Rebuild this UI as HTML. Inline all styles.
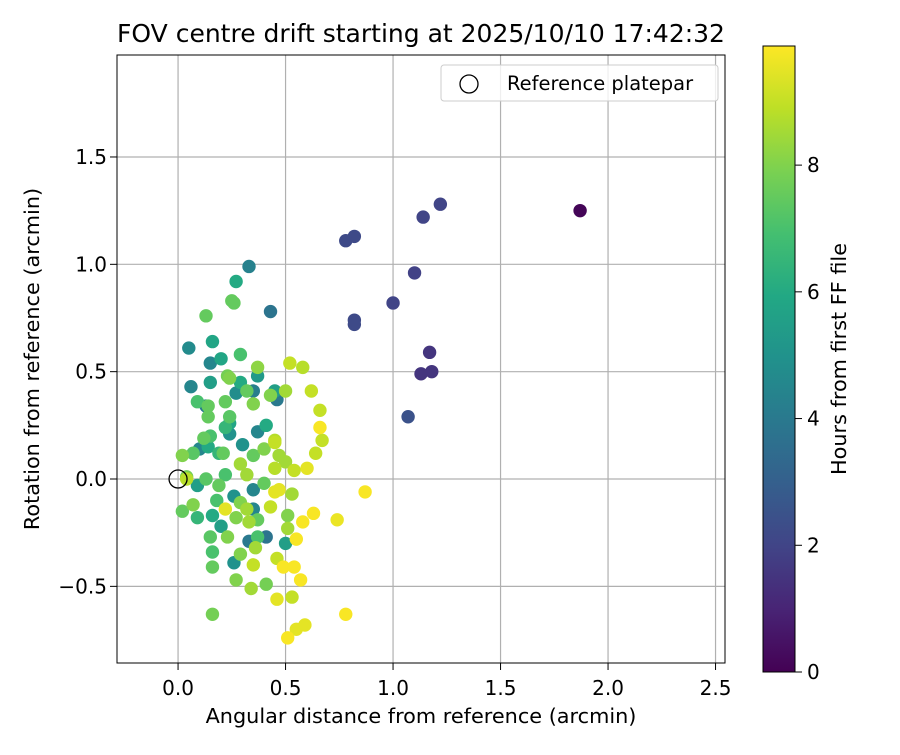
<!DOCTYPE html>
<html><head><meta charset="utf-8"><style>
body{margin:0;background:#fff}
svg{font-family:"DejaVu Sans","Liberation Sans",sans-serif}
</style></head><body>
<svg id="chart" width="900" height="750" viewBox="0 0 900 750">
<defs><linearGradient id="vir" x1="0" y1="1" x2="0" y2="0">
<stop offset="0" stop-color="#440154"/><stop offset="0.1" stop-color="#482475"/><stop offset="0.2" stop-color="#414487"/><stop offset="0.3" stop-color="#355f8d"/><stop offset="0.4" stop-color="#2a788e"/><stop offset="0.5" stop-color="#21918c"/><stop offset="0.6" stop-color="#22a884"/><stop offset="0.7" stop-color="#44bf70"/><stop offset="0.8" stop-color="#7ad151"/><stop offset="0.9" stop-color="#bddf26"/><stop offset="1" stop-color="#fde725"/></linearGradient></defs>
<text x="421" y="42" text-anchor="middle" font-size="25">FOV centre drift starting at 2025/10/10 17:42:32</text>
<g id="grid"></g><g id="pts"></g>
<rect x="117" y="55" width="608" height="608" fill="none" stroke="#000" stroke-width="1"/>
<g id="ticks"></g>
<text x="421" y="723" text-anchor="middle" font-size="20.8">Angular distance from reference (arcmin)</text>
<text transform="translate(39,359) rotate(-90)" text-anchor="middle" font-size="20.8">Rotation from reference (arcmin)</text>
<g>
<rect x="441" y="65" width="277" height="36" rx="3" fill="#fff" fill-opacity="0.8" stroke="#ccc"/>
<circle cx="469" cy="84" r="9" fill="none" stroke="#000" stroke-width="1.3"/>
<text x="507" y="90" font-size="19.5">Reference platepar</text>
</g>
<rect x="763" y="46" width="32" height="626" fill="url(#vir)" stroke="#000" stroke-width="1"/>
<g id="cbticks"></g>
<text transform="translate(846,359) rotate(-90)" text-anchor="middle" font-size="20.8">Hours from first FF file</text>
</svg>
<script>
const xs=[1.87,1.22,1.14,0.82,0.78,1.10,1.00,0.82,0.82,1.17,1.18,1.13,1.07,0.43,0.33,0.27,0.25,0.26,0.13,0.05,0.16,0.15,0.20,0.29,0.37,0.37,0.52,0.58,0.06,0.15,0.23,0.24,0.29,0.27,0.35,0.32,0.45,0.46,0.43,0.50,0.62,0.09,0.13,0.14,0.22,0.35,0.24,0.14,0.66,0.24,0.24,0.22,0.12,0.15,0.37,0.41,0.45,0.66,0.67,0.30,0.07,0.10,0.14,0.19,0.21,0.35,0.40,0.45,0.47,0.50,0.64,0.60,0.54,0.45,0.32,0.29,0.04,0.09,0.13,0.19,0.22,0.35,0.40,0.45,0.47,0.53,0.87,0.02,0.07,0.09,0.16,0.18,0.22,0.26,0.29,0.32,0.35,0.27,0.33,0.37,0.43,0.51,0.58,0.63,0.74,0.15,0.20,0.23,0.33,0.37,0.41,0.50,0.55,0.51,0.16,0.26,0.29,0.36,0.35,0.46,0.49,0.54,0.57,0.16,0.27,0.34,0.41,0.46,0.53,0.16,0.78,0.55,0.59,0.51,0.04,0.02];
const ys=[1.25,1.28,1.22,1.13,1.11,0.96,0.82,0.74,0.72,0.59,0.50,0.49,0.29,0.78,0.99,0.92,0.83,0.82,0.76,0.61,0.64,0.54,0.56,0.58,0.52,0.48,0.54,0.52,0.43,0.45,0.48,0.47,0.45,0.40,0.41,0.41,0.41,0.37,0.39,0.41,0.41,0.36,0.34,0.34,0.36,0.35,0.29,0.29,0.32,0.26,0.21,0.24,0.19,0.20,0.22,0.25,0.18,0.24,0.18,0.16,0.12,0.14,0.15,0.12,0.12,0.11,0.14,0.17,0.11,0.08,0.12,0.05,0.04,0.05,0.02,0.07,0.01,-0.03,0.00,-0.03,0.02,-0.05,-0.02,-0.06,-0.05,-0.07,-0.06,-0.15,-0.12,-0.18,-0.17,-0.10,-0.14,-0.08,-0.11,-0.14,-0.14,-0.18,-0.20,-0.19,-0.13,-0.17,-0.20,-0.16,-0.19,-0.27,-0.22,-0.27,-0.29,-0.27,-0.27,-0.30,-0.28,-0.23,-0.34,-0.39,-0.35,-0.32,-0.40,-0.37,-0.41,-0.41,-0.47,-0.41,-0.47,-0.51,-0.49,-0.56,-0.55,-0.63,-0.63,-0.70,-0.68,-0.74,0.00,0.11];
const hours=[0.1,2,2,2.2,2.2,1.9,2,2.2,2.2,1.5,1.5,1.5,2.5,3.8,4.3,6,7.5,7.5,7.5,4.7,5.8,4.5,5.8,7,8.2,5.3,9,8.8,4.5,5.5,7.8,8,6,4.8,4.2,7.5,5.5,4,8,8.5,9,7,4,7.5,7.5,8,7.3,7.5,9,5.8,5,6.5,7.5,7,4.5,6,8.8,9.8,9,5,7.3,4.5,6,6.5,7.5,7.5,8,9,8.5,8.5,9,9.5,9,8.8,8.5,8.5,7.8,5.5,7.3,7.5,7,4.5,7.5,9.5,9.5,8.5,9.8,7.5,8,6.5,6,7,9.5,5,8,8.5,4.5,8,8.5,7.5,9,8,9.8,9.8,9.6,7.3,5.5,8,4,7,3.8,5.5,9.8,8.5,7,5,8,8.5,9,9,9.8,9.8,9.8,7.5,8,8.5,7.8,9.5,9,7.8,9.8,9.5,9.5,9.8,8.8,8];
const xTicks=[0,0.5,1,1.5,2,2.5];
const xTickLabels=["0.0","0.5","1.0","1.5","2.0","2.5"];
const yTicks=[-0.5,0,0.5,1,1.5];
const yTickLabels=["−0.5","0.0","0.5","1.0","1.5"];
const cbTicks=[0,2,4,6,8];
const NS="http://www.w3.org/2000/svg";
const X0=117,X1=725,Y0=55,Y1=663,XMIN=-0.284,XMAX=2.544,YMIN=-0.857,YMAX=1.975,HMAX=9.88;
const sx=v=>X0+(v-XMIN)/(XMAX-XMIN)*(X1-X0);
const sy=v=>Y1-(v-YMIN)/(YMAX-YMIN)*(Y1-Y0);
const sc=h=>672-h/HMAX*626;
const stops=["#440154","#482475","#414487","#355f8d","#2a788e","#21918c","#22a884","#44bf70","#7ad151","#bddf26","#fde725"];
function hex(c){return [1,3,5].map(i=>parseInt(c.substr(i,2),16));}
function vir(t){t=Math.max(0,Math.min(1,t))*10;const i=Math.min(9,Math.floor(t)),f=t-i;const a=hex(stops[i]),b=hex(stops[i+1]);return "rgb("+a.map((v,k)=>Math.round(v+(b[k]-v)*f)).join(",")+")";}
function mk(tag,at,parent){const e=document.createElementNS(NS,tag);for(const k in at)e.setAttribute(k,at[k]);parent.appendChild(e);return e;}
const grid=document.getElementById('grid'),tk=document.getElementById('ticks'),pts=document.getElementById('pts'),cbt=document.getElementById('cbticks');
xTicks.forEach((v,i)=>{const x=sx(v);
 const g=mk('line',{x1:x,x2:x,y1:Y0,y2:Y1,stroke:'#b0b0b0','stroke-width':1.2},grid);
 
 
 mk('line',{x1:x,x2:x,y1:Y1,y2:Y1+7,stroke:'#000'},tk);
 const t=mk('text',{x:x,y:Y1+32,'text-anchor':'middle','font-size':20},tk);t.textContent=xTickLabels[i];
 
 });
yTicks.forEach((v,i)=>{const y=sy(v);
 const g=mk('line',{x1:X0,x2:X1,y1:y,y2:y,stroke:'#b0b0b0','stroke-width':1.2},grid);
 
 
 mk('line',{x1:X0-7,x2:X0,y1:y,y2:y,stroke:'#000'},tk);
 const t=mk('text',{x:X0-10,y:y+7,'text-anchor':'end','font-size':20},tk);t.textContent=yTickLabels[i];
 
 });
const idx=hours.map((h,i)=>i).sort((a,b)=>hours[a]-hours[b]);
idx.forEach(i=>{const c=mk('circle',{cx:sx(xs[i]),cy:sy(ys[i]),r:6.7,fill:vir(hours[i]/HMAX)},pts);
 
 });
const ref=mk('circle',{cx:sx(0),cy:sy(0),r:9,fill:'none',stroke:'#000','stroke-width':1.3},pts);


cbTicks.forEach(v=>{const y=sc(v);
 mk('line',{x1:795,x2:802,y1:y,y2:y,stroke:'#000'},cbt);
 const t=mk('text',{x:807,y:y+7,'font-size':20},cbt);t.textContent=v;
 
 });
</script>
</body></html>
